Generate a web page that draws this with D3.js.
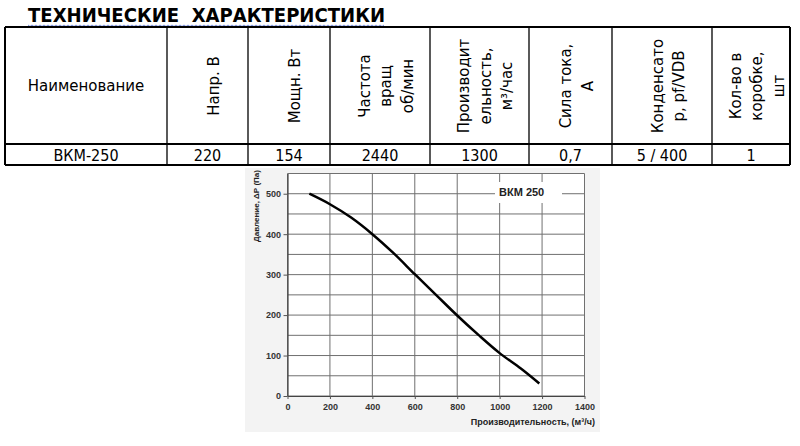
<!DOCTYPE html>
<html>
<head>
<meta charset="utf-8">
<script src="https://cdn.jsdelivr.net/npm/d3@7"></script>
<style>
    body { margin: 0; background: #fff; }
    svg { display: block; }
</style>
</head>
<body>
<svg id="sheet"></svg>
<script>
// Table data
const titleText = 'ТЕХНИЧЕСКИЕ  ХАРАКТЕРИСТИКИ';
const headerLabels = [
    ['Наименование'],
    ['Напр. В'],
    ['Мощн. Вт'],
    ['Частота', 'вращ', 'об/мин'],
    ['Производит', 'ельность,', 'м³/час'],
    ['Сила тока,', 'А'],
    ['Конденсато', 'р, pf/VDB'],
    ['Кол-во в', 'коробке,', 'шт']
];
const rowValues = ['ВКМ-250', '220', '154', '2440', '1300', '0,7', '5 / 400', '1'];

// Fan curve data (flow m³/h, pressure Pa)
const flowValues = [103, 200, 300, 400, 500, 600, 700, 800, 900, 1000, 1100, 1187];
const pressureValues = [500, 474, 441, 400, 353, 301, 250, 199, 151, 106, 68, 31];
const xTickValues = [0, 200, 400, 600, 800, 1000, 1200, 1400];
const yTickValues = [0, 100, 200, 300, 400, 500];
const seriesName = 'ВКМ 250';
const xTitle = 'Производительность, (м³/ч)';
const yTitle = 'Давление, ΔР (Па)';

const width = 800;
const height = 446;
const svg = d3.select('#sheet').attr('width', width).attr('height', height);

// ---- Title ----
svg.append('text')
    .attr('x', 28)
    .attr('y', 22)
    .attr('textLength', 357)
    .attr('lengthAdjust', 'spacingAndGlyphs')
    .style('font-family', "'DejaVu Sans', Verdana, sans-serif")
    .style('font-weight', 'bold')
    .style('font-size', '20px')
    .style('white-space', 'pre')
    .text(titleText);

// spell-check squiggle under the title
const squiggle = d3.range(28, 386, 2).map((px, i) => [px, 25.5 + (i % 2 ? 1 : -0.5)]);
svg.append('path')
    .attr('d', d3.line()(squiggle))
    .attr('fill', 'none')
    .attr('stroke', '#6a82d8')
    .attr('stroke-width', 0.9);

// ---- Table ----
const colEdges = [5, 167, 248, 330, 430, 529, 612, 712, 790];
const rowEdges = [27, 144, 165];
const table = svg.append('g').attr('class', 'table');

table.selectAll('line.v')
    .data(colEdges)
    .enter().append('line')
    .attr('x1', d => d).attr('x2', d => d)
    .attr('y1', rowEdges[0]).attr('y2', rowEdges[2])
    .attr('stroke', '#000')
    .attr('stroke-width', (d, i) => (i === 0 || i === colEdges.length - 1) ? 2 : 1.3);

table.selectAll('line.h')
    .data(rowEdges)
    .enter().append('line')
    .attr('x1', colEdges[0]).attr('x2', colEdges[colEdges.length - 1])
    .attr('y1', d => d).attr('y2', d => d)
    .attr('stroke', '#000')
    .attr('stroke-width', 2);

const headerFont = "'DejaVu Sans', Tahoma, sans-serif";

headerLabels.forEach((lines, i) => {
    const cx = (colEdges[i] + colEdges[i + 1]) / 2;
    const cy = (rowEdges[0] + rowEdges[1]) / 2 + 0.5;
    if (i === 0) {
        table.append('text')
            .attr('x', cx)
            .attr('y', cy)
            .attr('dy', '0.35em')
            .attr('text-anchor', 'middle')
            .style('font-family', headerFont)
            .style('font-size', '15px')
            .text(lines[0]);
        return;
    }
    const step = 21.5;
    const g = table.append('g')
        .attr('transform', `translate(${cx + 6},${cy}) rotate(-90)`);
    g.selectAll('text')
        .data(lines)
        .enter().append('text')
        .attr('x', 0)
        .attr('y', (d, j) => (j - (lines.length - 1) / 2) * step)
        .attr('dy', '0.35em')
        .attr('text-anchor', 'middle')
        .style('font-family', headerFont)
        .style('font-size', '15px')
        .text(d => d);
});

table.selectAll('text.val')
    .data(rowValues)
    .enter().append('text')
    .attr('class', 'val')
    .attr('x', (d, i) => (colEdges[i] + colEdges[i + 1]) / 2)
    .attr('y', 161)
    .attr('text-anchor', 'middle')
    .style('font-family', "'DejaVu Sans Condensed', 'DejaVu Sans', sans-serif")
    .style('font-stretch', 'condensed')
    .style('font-size', '16px')
    .text(d => d);

// ---- Chart ----
const chart = svg.append('g').attr('class', 'chart');

chart.append('rect')
    .attr('x', 245).attr('y', 168)
    .attr('width', 355).attr('height', 264)
    .attr('fill', '#f3f3f3');

const x = d3.scaleLinear().domain([0, 1400]).range([287.5, 584.5]);
const y = d3.scaleLinear().domain([0, 550]).range([396, 173.5]);

chart.append('rect')
    .attr('x', x(0)).attr('y', y(550))
    .attr('width', x(1400) - x(0)).attr('height', y(0) - y(550))
    .attr('fill', '#fff');

const gridColor = '#707070';

chart.append('g')
    .selectAll('line')
    .data(y.ticks(11))
    .enter().append('line')
    .attr('x1', x(0)).attr('x2', x(1400))
    .attr('y1', d => y(d)).attr('y2', d => y(d))
    .attr('stroke', gridColor)
    .attr('stroke-width', 1);

chart.append('g')
    .selectAll('line')
    .data(xTickValues)
    .enter().append('line')
    .attr('x1', d => x(d)).attr('x2', d => x(d))
    .attr('y1', y(0)).attr('y2', y(550))
    .attr('stroke', gridColor)
    .attr('stroke-width', 1);

// axes (ticks + labels)
const yAxis = chart.append('g')
    .attr('transform', `translate(${x(0)},0)`)
    .call(d3.axisLeft(y).tickValues(yTickValues).tickFormat(d3.format('d'))
        .tickSize(4).tickPadding(2.5).tickSizeOuter(0));
const xAxis = chart.append('g')
    .attr('transform', `translate(0,${y(0)})`)
    .call(d3.axisBottom(x).tickValues(xTickValues).tickFormat(d3.format('d'))
        .tickSize(3).tickPadding(4.5).tickSizeOuter(0));

[xAxis, yAxis].forEach(ax => {
    ax.select('.domain').attr('stroke', '#444').attr('stroke-width', 1.2);
    ax.selectAll('.tick line').attr('stroke', '#555');
    ax.selectAll('.tick text')
        .attr('fill', '#333')
        .style('font-family', "'Liberation Sans', Arial, sans-serif")
        .style('font-weight', 'bold')
        .style('font-size', '9px');
});

// legend label with white box
chart.append('rect')
    .attr('x', 495).attr('y', 182)
    .attr('width', 67).attr('height', 21)
    .attr('fill', '#fff');
chart.append('text')
    .attr('x', 499)
    .attr('y', 196)
    .style('font-family', "'Liberation Sans', Arial, sans-serif")
    .style('font-weight', 'bold')
    .style('font-size', '11px')
    .attr('fill', '#222')
    .text(seriesName);

// the fan curve
const curveData = flowValues.map((q, i) => ({ q, p: pressureValues[i] }));
chart.append('path')
    .datum(curveData)
    .attr('d', d3.line().x(d => x(d.q)).y(d => y(d.p)).curve(d3.curveCatmullRom.alpha(0.5)))
    .attr('fill', 'none')
    .attr('stroke', '#000')
    .attr('stroke-width', 2.5);

// axis titles
chart.append('text')
    .attr('x', 595)
    .attr('y', 425)
    .attr('text-anchor', 'end')
    .attr('fill', '#222')
    .style('font-family', "'Liberation Sans', Arial, sans-serif")
    .style('font-weight', 'bold')
    .style('font-size', '9px')
    .text(xTitle);

chart.append('text')
    .attr('transform', 'translate(259,206) rotate(-90)')
    .attr('text-anchor', 'middle')
    .attr('fill', '#222')
    .style('font-family', "'Liberation Sans', Arial, sans-serif")
    .style('font-weight', 'bold')
    .style('font-size', '8px')
    .text(yTitle);
</script>
</body>
</html>
